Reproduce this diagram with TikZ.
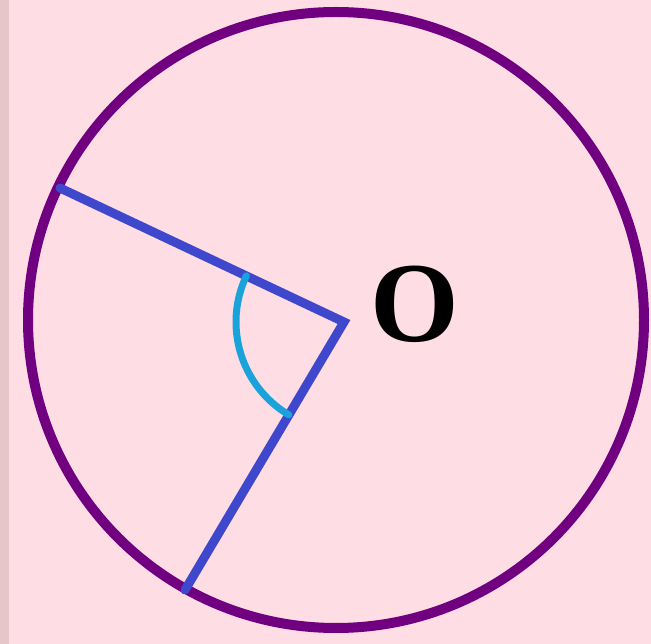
\documentclass[tikz,border=0pt]{standalone}
\usepackage{fontspec}
\usetikzlibrary{calc}
\newfontfamily\ofont{Liberation Serif}[BoldFont={* Bold}]
\definecolor{bgpink}{HTML}{FFDDE5}
\definecolor{stripe}{HTML}{E6C6C8}
\definecolor{rim}{HTML}{700080}
\definecolor{ray}{HTML}{3F48CC}
\definecolor{arcc}{HTML}{1AA3DA}
\tikzset{
  rimline/.style={draw=rim, line width=10pt},
  rayline/.style={draw=ray, line width=9pt, line cap=round, line join=miter},
  anglearc/.style={draw=arcc, line width=7pt, line cap=round},
}
\begin{document}
\begin{tikzpicture}[x=1pt,y=-1pt]
\fill[bgpink] (0,0) rectangle (651,644);
\fill[stripe] (0,0) rectangle (9,644);
\useasboundingbox (0,0) rectangle (651,644);
\coordinate (C) at (336,320);
\coordinate (V) at (344,322);
\coordinate (A) at (60,188);
\coordinate (B) at (185,590);
\draw[rimline] (C) circle[radius=308];
\draw[rayline] (A) -- (V) -- (B);
\draw[anglearc] ($(V)+(154.7:108pt)$) arc[start angle=154.7, end angle=239.3, radius=108pt];
\node[font=\ofont\bfseries\fontsize{114}{114}\selectfont, inner sep=0pt] (O) at (415,304) {O};
\end{tikzpicture}
\end{document}
